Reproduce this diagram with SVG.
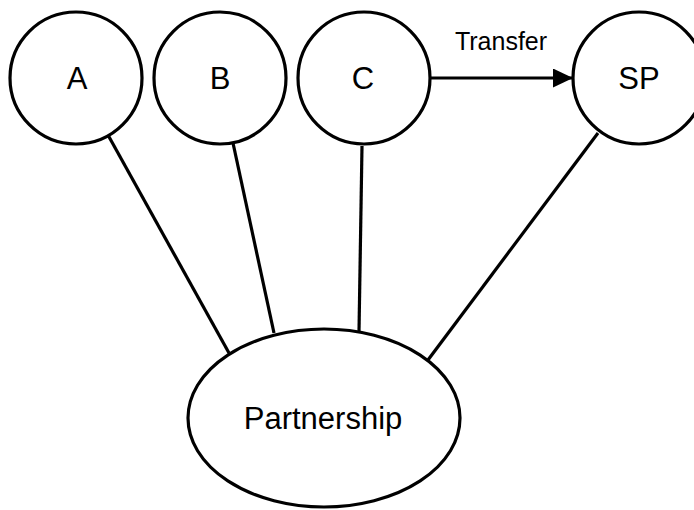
<svg xmlns="http://www.w3.org/2000/svg" width="694" height="510" viewBox="0 0 694 510">
  <defs>
    <marker id="arrow" markerWidth="20" markerHeight="20" refX="20" refY="9.5" orient="auto" markerUnits="userSpaceOnUse">
      <path d="M0,0 L20,9.5 L0,19 Z" fill="#000"/>
    </marker>
    <style>
      .shape { fill: #fff; stroke: #000; stroke-width: 3.2; }
      .edge { fill: none; stroke: #000; stroke-width: 3.2; }
      .label { font-family: "Liberation Sans", Arial, sans-serif; fill: #000; text-anchor: middle; }
      .big { font-size: 31px; }
      .small { font-size: 25px; }
    </style>
  </defs>
  <rect width="694" height="510" fill="#fff"/>

  <g id="connectors">
    <line class="edge" x1="108" y1="135" x2="229" y2="353"/>
    <line class="edge" x1="233" y1="143" x2="274" y2="333"/>
    <line class="edge" x1="362" y1="146" x2="359" y2="332"/>
    <line class="edge" x1="598" y1="133" x2="428" y2="360"/>
    <line class="edge" x1="431" y1="78" x2="573" y2="78" marker-end="url(#arrow)"/>
    <text class="label small" x="501" y="50">Transfer</text>
  </g>

  <g id="node-a">
    <circle class="shape" cx="76" cy="78" r="66"/>
    <text class="label big" x="77" y="89">A</text>
  </g>
  <g id="node-b">
    <circle class="shape" cx="220" cy="78" r="66"/>
    <text class="label big" x="220" y="89">B</text>
  </g>
  <g id="node-c">
    <circle class="shape" cx="364" cy="78" r="66"/>
    <text class="label big" x="363" y="89">C</text>
  </g>
  <g id="node-sp">
    <circle class="shape" cx="639" cy="78" r="66"/>
    <text class="label big" x="639" y="89">SP</text>
  </g>
  <g id="node-partnership">
    <ellipse class="shape" cx="324" cy="418" rx="136" ry="89"/>
    <text class="label big" x="323" y="429">Partnership</text>
  </g>
</svg>
